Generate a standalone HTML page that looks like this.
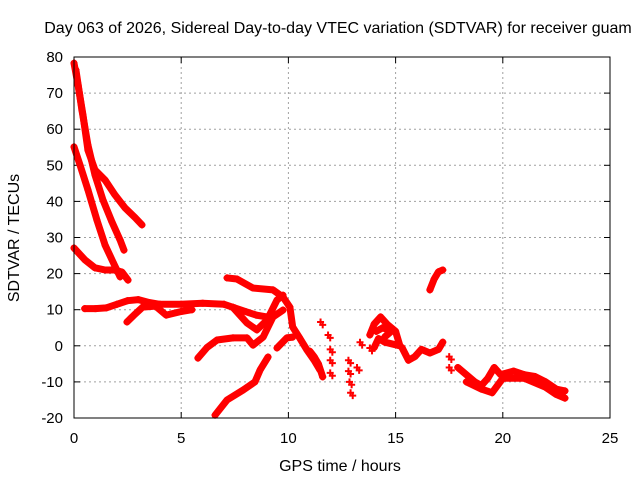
<!DOCTYPE html>
<html><head><meta charset="utf-8"><style>
body{margin:0;background:#fff}
svg{display:block;font-family:"Liberation Sans",sans-serif}
</style></head><body>
<svg id="chart" width="640" height="480">
<text x="338" y="33" text-anchor="middle" font-size="16">Day 063 of 2026, Sidereal Day-to-day VTEC variation (SDTVAR) for receiver guam</text>
<text transform="translate(19,238) rotate(-90)" text-anchor="middle" font-size="16">SDTVAR / TECUs</text>
<text x="340" y="471" text-anchor="middle" font-size="16">GPS time / hours</text>
<g id="grid"></g><g id="marks"></g>
<rect x="74" y="57" width="536" height="361" fill="none" stroke="#000" stroke-width="1"/>
</svg>
<script>
const xTicks=[0,5,10,15,20,25];
const yTicks=[-20,-10,0,10,20,30,40,50,60,70,80];
const trackA=[[0,78.3],[0.19,72.2],[0.42,63.9],[0.65,54.2],[0.98,48.7],[1.45,45.9],[1.91,41.8],[2.38,38.2],[2.85,35.5],[3.17,33.5]];
const trackB=[[0.09,76.4],[0.37,65.3],[0.65,55.6],[0.98,47.3],[1.35,40.4],[1.77,34.3],[2.15,29.3],[2.33,26.5]];
const trackC=[[0,55.1],[0.28,50.1],[0.65,43.2],[1.07,34.8],[1.45,27.9],[1.82,23.2],[2.15,19.1]];
const trackD=[[0,27.1],[0.51,23.8],[0.98,21.6],[1.45,21.0],[1.91,21.0],[2.24,20.4],[2.52,18.2]];
const trackE=[[0.5,10.3],[1.0,10.3],[1.5,10.5],[2.0,11.5],[2.5,12.5],[3.0,12.8],[3.5,12],[4.0,11.5],[5.0,11.5],[6.0,11.8],[7.0,11.5],[7.5,10.5],[8.0,9.5],[8.5,8.5],[9.0,8.0]];
const trackE2=[[2.47,6.6],[2.8,8.5],[3.2,10.7],[3.8,11],[4.3,8.5],[5.0,9.5],[5.5,10]];
const trackF=[[7.14,18.8],[7.6,18.5],[8.35,16],[9.28,15.5],[9.75,13.5],[10.07,10.7],[10.2,5.2],[10.5,2.4],[10.87,-1.2],[11.2,-4],[11.47,-6.7]];
const trackG=[[7.4,10.7],[8.07,6.3],[8.53,4.4],[9.0,7.1],[9.47,12.7],[9.75,14]];
const trackH=[[5.78,-3.4],[6.2,-0.5],[6.67,1.6],[7.42,2.2],[8.07,2.2],[8.35,0.2],[8.82,2.4],[9.28,8],[9.75,9.9]];
const trackH2=[[9.47,-0.6],[9.93,2.2],[10.2,2.4]];
const trackI=[[6.58,-19.2],[7.14,-15],[7.9,-12.2],[8.44,-10],[8.68,-6.7],[9.05,-3.1]];
const trackJ=[[16.6,15.5],[16.8,18.5],[17.0,20.5],[17.2,21]];
const trackK=[[15.3,-0.5],[15.6,-4],[15.9,-3],[16.2,-1],[16.6,-2],[17.0,-1],[17.2,1]];
const trackL=[[17.9,-6],[18.3,-8],[18.7,-10],[19.0,-11],[19.3,-9],[19.6,-6],[19.9,-8],[20.5,-7],[21,-8],[21.5,-8.5],[22,-10],[22.5,-12],[22.9,-12.5]];
const trackL2=[[18.3,-10],[19.0,-12],[19.5,-13],[20.0,-9],[21.0,-9],[22.0,-11.5],[22.5,-13.5],[22.9,-14.5]];
const trackM=[[13.8,3],[14.0,6],[14.3,8],[14.6,6],[15.0,4],[15.2,0],[14.5,1],[14.2,2],[14.0,-0.5]];
const trackM2=[[14.1,4],[14.4,5],[14.8,4],[14.5,2.5]];
const trackN=[[11.0,-1.5],[11.2,-3],[11.4,-5],[11.6,-8.6]];
const scatterPts=[[11.5,6.6],[11.85,3],[11.95,-1],[11.95,-4],[11.95,-7.5],[12.8,-4],[12.8,-7],[12.85,-10],[12.9,-13],[13.2,-6],[13.34,1],[13.8,-0.6],[17.5,-3],[17.5,-6]];
const series=[trackA,trackB,trackC,trackD,trackE,trackE2,trackF,trackG,trackH,trackH2,trackI,trackJ,trackK,trackL,trackL2,trackM,trackM2,trackN];
const X0=74,X1=610,Y0=418,Y1=57;
const sx=t=>X0+(t-0)/25*(X1-X0);
const sy=v=>Y0-(v+20)/100*(Y0-Y1);
const NS='http://www.w3.org/2000/svg';
const grid=document.getElementById('grid'),marks=document.getElementById('marks');
function mk(tag,attrs,parent){const e=document.createElementNS(NS,tag);for(const k in attrs)e.setAttribute(k,attrs[k]);parent.appendChild(e);return e;}
xTicks.forEach(t=>{const x=sx(t);
 if(t>0&&t<25){const g=mk('line',{x1:x,x2:x,y1:Y1,y2:Y0,stroke:'#a0a0a0','stroke-dasharray':'2,3'},grid);
 
 }
 mk('line',{x1:x,x2:x,y1:Y0,y2:Y0-6,stroke:'#000'},grid);
 mk('line',{x1:x,x2:x,y1:Y1,y2:Y1+6,stroke:'#000'},grid);
 const l=mk('text',{x:x,y:Y0+25,'text-anchor':'middle','font-size':'15'},grid);l.textContent=t;
 
 });
yTicks.forEach(v=>{const y=sy(v);
 if(v>-20&&v<80){const g=mk('line',{x1:X0,x2:X1,y1:y,y2:y,stroke:'#a0a0a0','stroke-dasharray':'2,3'},grid);
 
 }
 mk('line',{x1:X0,x2:X0+6,y1:y,y2:y,stroke:'#000'},grid);
 mk('line',{x1:X1,x2:X1-6,y1:y,y2:y,stroke:'#000'},grid);
 const l=mk('text',{x:X0-11,y:y+5,'text-anchor':'end','font-size':'15'},grid);l.textContent=v;
 
 });
function cross(t,v){const x=sx(t),y=sy(v);
 const p=mk('path',{d:`M${x-3.5},${y}H${x+3.5}M${x},${y-3.5}V${y+3.5}`,stroke:'#f00','stroke-width':2},marks);
 
 }
series.forEach(s=>{
 const pl=mk('polyline',{points:s.map(p=>sx(p[0])+','+sy(p[1])).join(' '),fill:'none',stroke:'#f00','stroke-width':7,'stroke-linejoin':'round','stroke-linecap':'round'},marks);
 
 
 s.forEach(p=>cross(p[0],p[1]));});
scatterPts.forEach(p=>{cross(p[0],p[1]);cross(p[0]+0.1,p[1]-0.8);});
</script>
</body></html>
